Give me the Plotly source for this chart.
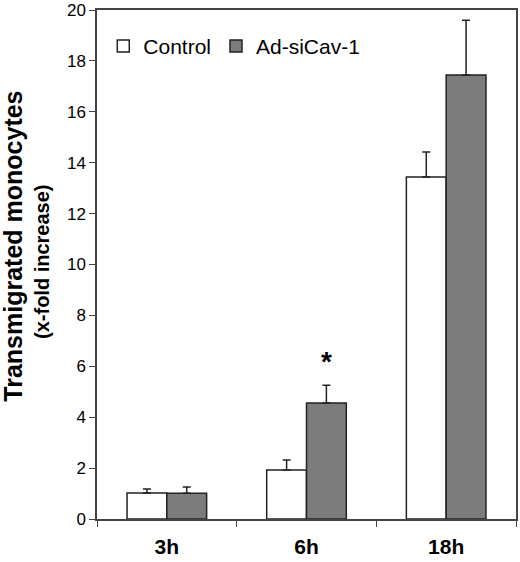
import plotly.graph_objects as go

categories = ["3h", "6h", "18h"]
control = [1.02, 1.93, 13.44]
control_err = [0.16, 0.39, 0.98]
sicav = [1.01, 4.56, 17.45]
sicav_err = [0.25, 0.70, 2.15]

bar_line = dict(color="#222222", width=1.5)

fig = go.Figure()
fig.add_trace(go.Bar(
    x=categories, y=control, name="Control",
    marker=dict(color="white", line=bar_line),
    error_y=dict(type="data", array=control_err, arrayminus=[0, 0, 0], symmetric=False,
                 color="#222222", thickness=1.5, width=4),
))
fig.add_trace(go.Bar(
    x=categories, y=sicav, name="Ad-siCav-1",
    marker=dict(color="#7c7c7c", line=bar_line),
    error_y=dict(type="data", array=sicav_err, arrayminus=[0, 0, 0], symmetric=False,
                 color="#222222", thickness=1.5, width=4),
))

# significance marker
fig.add_annotation(x="6h", y=6.2, xshift=20, text="<b>*</b>", showarrow=False,
                   font=dict(size=28, color="black"))

# y title: two lines of different size, so drawn as two rotated annotations
fig.add_annotation(xref="paper", x=0, xshift=-84, yref="y", y=10.7,
                   text="<b>Transmigrated monocytes</b>", textangle=-90,
                   showarrow=False, xanchor="center", yanchor="middle",
                   font=dict(size=25))
fig.add_annotation(xref="paper", x=0, xshift=-55, yref="y", y=10.1,
                   text="<b>(x-fold increase)</b>", textangle=-90,
                   showarrow=False, xanchor="center", yanchor="middle",
                   font=dict(size=20))

fig.update_layout(
    width=520, height=562,
    barmode="group", bargap=0.43, bargroupgap=0,
    plot_bgcolor="white", paper_bgcolor="white",
    margin=dict(l=97, r=4, t=10, b=43),
    font=dict(family="Liberation Sans, Arial", color="black"),
    legend=dict(orientation="h", x=0.015, y=0.969, xanchor="left", yanchor="top",
                font=dict(size=21), bgcolor="rgba(0,0,0,0)", traceorder="normal"),
    showlegend=True,
)
fig.update_xaxes(
    automargin=False,
    showline=True, linecolor="#444444", linewidth=1.5, mirror=True,
    ticks="outside", tickson="boundaries", ticklen=6, tickcolor="#444444",
    tickfont=dict(size=21, weight="bold"), ticklabelstandoff=8,
)
fig.update_yaxes(
    automargin=False,
    range=[0, 20], dtick=2, showgrid=False, zeroline=False,
    showline=True, linecolor="#444444", linewidth=1.5, mirror=True,
    ticks="outside", ticklen=6, tickcolor="#444444",
    tickfont=dict(size=17),
)

# drop the browser's default 8px body margin so the figure fills the window
fig.write_html("out.html", config={"displayModeBar": False},
               post_script="document.body.style.margin='0';")
